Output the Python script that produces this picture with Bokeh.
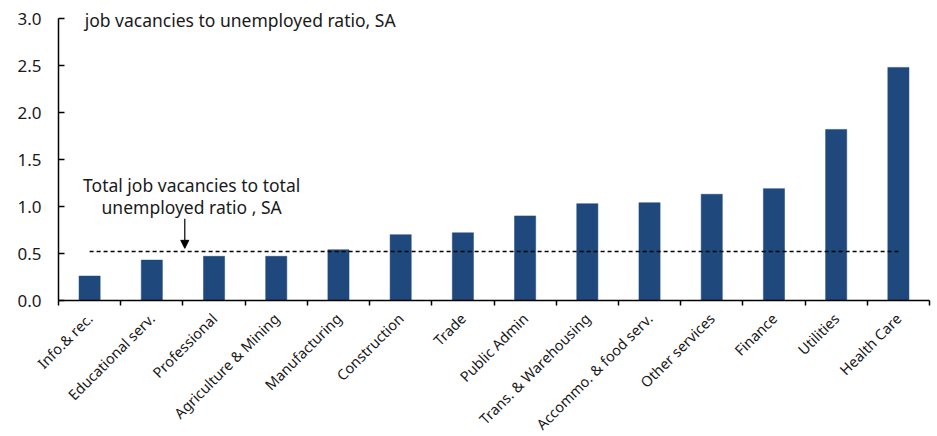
import math
from bokeh.plotting import figure
from bokeh.models import FixedTicker, Range1d, Label, Arrow, NormalHead, ColumnDataSource
from bokeh.embed import file_html
from bokeh.resources import INLINE

categories = ["Info.& rec.", "Educational serv.", "Professional", "Agriculture & Mining",
              "Manufacturing", "Construction", "Trade", "Public Admin",
              "Trans. & Warehousing", "Accommo. & food serv.", "Other services",
              "Finance", "Utilities", "Health Care"]
ratios = [0.26, 0.43, 0.47, 0.47, 0.54, 0.70, 0.72, 0.90, 1.03, 1.04, 1.13, 1.19, 1.82, 2.48]
total_ratio = 0.52
y_ticks = [0.0, 0.5, 1.0, 1.5, 2.0, 2.5, 3.0]

FONT = "Noto Sans"
TXT = "#1a1a1a"
BAR = "#1F497D"

W, H = 937, 436
ZERO_X_PX, END_X_PX = 58, 929     # pixel columns of the axis ends
ZERO_Y_PX, TOP_Y_PX = 300, 18     # pixel rows of y = 0 and y = 3.0

n = len(categories)
xs = [i + 0.5 for i in range(n)]
src = ColumnDataSource(dict(x=xs, top=ratios, cat=categories))

px_x = (END_X_PX - ZERO_X_PX) / n
px_y = (ZERO_Y_PX - TOP_Y_PX) / y_ticks[-1]
x_start = -ZERO_X_PX / px_x
x_end = n + (W - END_X_PX) / px_x
y_start = -(H - ZERO_Y_PX) / px_y
y_end = ZERO_Y_PX / px_y

p = figure(width=W, height=H, output_backend="svg", toolbar_location=None,
           x_range=Range1d(x_start, x_end), y_range=Range1d(y_start, y_end),
           min_border=0)
p.outline_line_color = None
p.grid.grid_line_color = None
p.background_fill_color = "white"

p.vbar(x="x", top="top", bottom=0, width=0.34, source=src, fill_color=BAR,
       line_color=BAR, line_width=0.5)

# dashed total line from first to last bar centre
p.segment(x0=[xs[0]], x1=[xs[-1]], y0=[total_ratio], y1=[total_ratio],
          line_color="black", line_width=1.5, line_dash="4 3")

# x axis, fixed at y = 0
xa = p.xaxis[0]
xa.fixed_location = 0
xa.bounds = (0, n)
xa.ticker = FixedTicker(ticks=xs, minor_ticks=list(range(n + 1)))
xa.major_label_overrides = {x: c for x, c in zip(xs, categories)}
xa.major_tick_line_color = None
xa.major_tick_out = 0
xa.major_tick_in = 0
xa.minor_tick_line_color = "black"
xa.minor_tick_out = 5
xa.minor_tick_in = 0
xa.minor_tick_line_width = 1.5
xa.axis_line_width = 1.5
xa.axis_line_color = "black"
xa.major_label_orientation = math.pi / 4
xa.major_label_text_font = FONT
xa.major_label_text_font_size = "14.5px"
xa.major_label_text_color = TXT
xa.major_label_standoff = 10

# y axis, fixed at x = 0
ya = p.yaxis[0]
ya.fixed_location = 0
ya.ticker = FixedTicker(ticks=y_ticks)
ya.bounds = (0, y_ticks[-1])
ya.minor_tick_line_color = None
ya.major_tick_in = 6
ya.major_tick_out = 0
ya.major_tick_line_width = 1.5
ya.axis_line_width = 1.5
ya.axis_line_color = "black"
ya.major_tick_line_color = "black"
ya.major_label_overrides = {t: f"{t:.1f}" for t in y_ticks}
ya.major_label_text_font = FONT
ya.major_label_text_font_size = "17px"
ya.major_label_text_color = TXT
ya.major_label_standoff = 17

# texts
p.add_layout(Label(x=0.42, y=2.98, text="job vacancies to unemployed ratio, SA",
                   text_font=FONT, text_font_size="17.5px", text_color=TXT,
                   text_baseline="middle", text_align="left"))
p.add_layout(Label(x=2.14, y=1.234, text="Total job vacancies to total",
                   text_font=FONT, text_font_size="17.5px", text_color=TXT,
                   text_baseline="middle", text_align="center"))
p.add_layout(Label(x=2.14, y=0.99, text="unemployed ratio , SA",
                   text_font=FONT, text_font_size="17.5px", text_color=TXT,
                   text_baseline="middle", text_align="center"))
p.add_layout(Arrow(x_start=2.03, y_start=0.87, x_end=2.03, y_end=0.555,
                   line_color="black", line_width=1.2,
                   end=NormalHead(size=8, fill_color="black", line_color="black")))

open("out.html", "w").write(file_html(p, INLINE))
